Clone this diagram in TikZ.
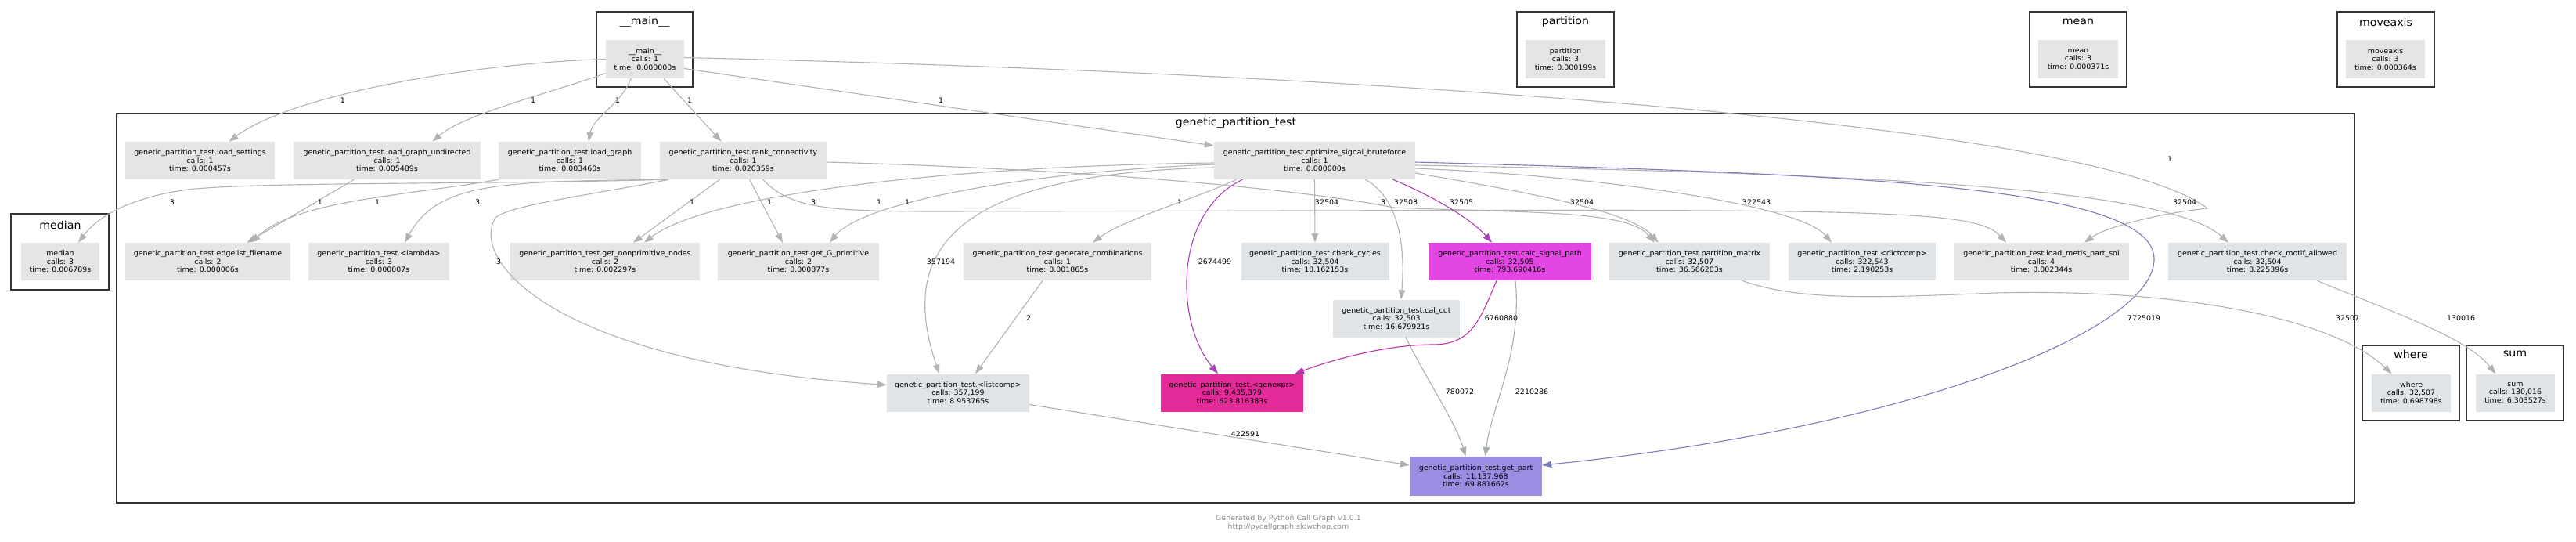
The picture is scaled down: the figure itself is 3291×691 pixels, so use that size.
\documentclass[tikz,border=0pt]{standalone}
\usepackage{fontspec}
\newfontfamily\cgfont{DejaVu Sans}[FakeStretch=1.05]
\usetikzlibrary{arrows.meta}
\definecolor{nodegray}{HTML}{E5E5E5}
\definecolor{nodetint}{HTML}{E1E4E6}
\definecolor{nodemagenta}{HTML}{E446E4}
\definecolor{nodepink}{HTML}{E42A98}
\definecolor{nodelilac}{HTML}{9C8DE2}
\definecolor{clusterline}{HTML}{333333}
\definecolor{edgegray}{HTML}{B3B3B3}
\definecolor{edgepurple}{HTML}{AE42B8}
\definecolor{edgepink}{HTML}{C034A6}
\definecolor{edgeblue}{HTML}{7C7DBD}
\definecolor{edgeslate}{HTML}{A8B0B4}
\definecolor{footgray}{HTML}{8C8C8C}
\begin{document}
\begin{tikzpicture}[x=1pt, y=-1pt,
  fn/.style={fill=nodegray, minimum height=48pt, inner sep=2pt, align=center, font=\cgfont\fontsize{9}{10.4}\selectfont},
  cluster/.style={draw=clusterline, line width=2.5pt, fill=white},
  ctitle/.style={font=\cgfont\fontsize{13.5}{15}\selectfont, inner sep=0pt},
  call/.style={draw=edgegray, line width=1.1pt, -{Triangle[length=12pt,width=8.5pt]}},
  lbl/.style={font=\cgfont\fontsize{9}{10}\selectfont, inner sep=0pt}]
\fill [white] (0, 0) rectangle (3291, 691);
\useasboundingbox (0, 0) rectangle (3291, 691);

\draw [cluster] (762, 15) rectangle (885, 111);
\draw [cluster] (1938, 15) rectangle (2062, 111);
\draw [cluster] (2593, 15) rectangle (2717, 111);
\draw [cluster] (2986, 15) rectangle (3110, 111);
\draw [cluster] (149, 145) rectangle (3008, 642);
\draw [cluster] (14, 273) rectangle (139, 370);
\draw [cluster] (3018, 441) rectangle (3142, 537);
\draw [cluster] (3151, 441) rectangle (3275, 537);
\node (tmain) at (823.5, 28) [ctitle] {\_\_main\_\_};
\node (tpartition) at (2000, 28) [ctitle] {partition};
\node (tmean) at (2655, 28) [ctitle] {mean};
\node (tmoveaxis) at (3048, 28) [ctitle] {moveaxis};
\node (tgenetic) at (1579, 157) [ctitle] {genetic\_partition\_test};
\node (tmedian) at (77, 287) [ctitle] {median};
\node (twhere) at (3080, 452) [ctitle] {where};
\node (tsum) at (3213, 452) [ctitle] {sum};

\node (main) at (824, 75.5) [fn, minimum width=100pt, minimum height=49pt] {\_\_main\_\_\\calls: 1\\time: 0.000000s};
\node (partition) at (2000, 75.5) [fn, minimum width=102pt, minimum height=49pt] {partition\\calls: 3\\time: 0.000199s};
\node (mean) at (2655, 75.5) [fn, minimum width=102pt, minimum height=49pt] {mean\\calls: 3\\time: 0.000371s};
\node (moveaxis) at (3047.5, 75.5) [fn, minimum width=101pt, minimum height=49pt] {moveaxis\\calls: 3\\time: 0.000364s};
\node (settings) at (255.5, 205) [fn, minimum width=191pt] {genetic\_partition\_test.load\_settings\\calls: 1\\time: 0.000457s};
\node (undirected) at (494.5, 205) [fn, minimum width=239pt] {genetic\_partition\_test.load\_graph\_undirected\\calls: 1\\time: 0.005489s};
\node (loadgraph) at (728, 205) [fn, minimum width=182pt] {genetic\_partition\_test.load\_graph\\calls: 1\\time: 0.003460s};
\node (rank) at (949.5, 205) [fn, minimum width=213pt] {genetic\_partition\_test.rank\_connectivity\\calls: 1\\time: 0.020359s};
\node (optimize) at (1679.5, 205) [fn, minimum width=257pt] {genetic\_partition\_test.optimize\_signal\_bruteforce\\calls: 1\\time: 0.000000s};
\node (median) at (77, 334) [fn, minimum width=100pt] {median\\calls: 3\\time: 0.006789s};
\node (edgelist) at (265.5, 334) [fn, minimum width=211pt] {genetic\_partition\_test.edgelist\_filename\\calls: 2\\time: 0.000006s};
\node (lambda) at (484, 334) [fn, minimum width=180pt] {genetic\_partition\_test.<lambda>\\calls: 3\\time: 0.000007s};
\node (nonprim) at (773, 334) [fn, minimum width=242pt] {genetic\_partition\_test.get\_nonprimitive\_nodes\\calls: 2\\time: 0.002297s};
\node (gprim) at (1020, 334) [fn, minimum width=206pt] {genetic\_partition\_test.get\_G\_primitive\\calls: 2\\time: 0.000877s};
\node (combos) at (1351, 334) [fn, minimum width=240pt] {genetic\_partition\_test.generate\_combinations\\calls: 1\\time: 0.001865s};
\node (cycles) at (1680, 334) [fn, fill=nodetint, minimum width=189pt] {genetic\_partition\_test.check\_cycles\\calls: 32,504\\time: 18.162153s};
\node (signal) at (1929, 334) [fn, fill=nodemagenta, minimum width=208pt] {genetic\_partition\_test.calc\_signal\_path\\calls: 32,505\\time: 793.690416s};
\node (matrix) at (2158.5, 334) [fn, fill=nodetint, minimum width=205pt] {genetic\_partition\_test.partition\_matrix\\calls: 32,507\\time: 36.566203s};
\node (dictcomp) at (2379, 334) [fn, fill=nodetint, minimum width=188pt] {genetic\_partition\_test.<dictcomp>\\calls: 322,543\\time: 2.190253s};
\node (metis) at (2608, 334) [fn, minimum width=224pt] {genetic\_partition\_test.load\_metis\_part\_sol\\calls: 4\\time: 0.002344s};
\node (motif) at (2884, 334) [fn, fill=nodetint, minimum width=228pt] {genetic\_partition\_test.check\_motif\_allowed\\calls: 32,504\\time: 8.225396s};
\node (calcut) at (1784, 406.5) [fn, fill=nodetint, minimum width=162pt] {genetic\_partition\_test.cal\_cut\\calls: 32,503\\time: 16.679921s};
\node (listcomp) at (1224, 501.5) [fn, fill=nodetint, minimum width=182pt] {genetic\_partition\_test.<listcomp>\\calls: 357,199\\time: 8.953765s};
\node (genexpr) at (1574, 501.5) [fn, fill=nodepink, minimum width=182pt] {genetic\_partition\_test.<genexpr>\\calls: 9,435,379\\time: 623.816383s};
\node (getpart) at (1885.5, 608) [fn, fill=nodelilac, minimum width=169pt, minimum height=50pt] {genetic\_partition\_test.get\_part\\calls: 11,137,968\\time: 69.881662s};
\node (where) at (3080.5, 501.5) [fn, fill=nodetint, minimum width=101pt] {where\\calls: 32,507\\time: 0.698798s};
\node (sum) at (3213.5, 501.5) [fn, fill=nodetint, minimum width=101pt] {sum\\calls: 130,016\\time: 6.303527s};

\draw [call] (main.west) .. controls +(-170,5) and +(80,-60) .. ([xshift=37]settings.north);
\draw [call] ([yshift=-18]main.west) .. controls +(-70,25) and +(40,-35) .. ([xshift=58]undirected.north);
\draw [call] ([xshift=-18]main.south) .. controls +(-10,30) and +(5,-30) .. ([xshift=24]loadgraph.north);
\draw [call] ([xshift=24]main.south) -- ([xshift=-28]rank.north);
\draw [call] ([yshift=-12]main.east) -- ([yshift=19]optimize.west);
\draw [call] ([yshift=2]main.east) .. controls (1800, 95) and (2680, 160) .. (2820, 266) .. controls (2760, 272) and (2690, 290) .. ([xshift=55]metis.north);
\draw [call] ([xshift=10]rank.south west) .. controls (600, 236) and (330, 232) .. (240, 242) .. controls (180, 250) and (130, 270) .. ([xshift=23]median.north);
\draw [call] ([xshift=-42]undirected.south) -- ([xshift=50]edgelist.north);
\draw [call] (loadgraph.south west) .. controls (520, 250) and (380, 255) .. ([xshift=55]edgelist.north);
\draw [call] ([xshift=5]rank.south west) .. controls (640, 232) and (560, 232) .. ([xshift=33]lambda.north);
\draw [call] ([xshift=12]rank.south west) .. controls (760, 248) and (650, 262) .. (633, 278) .. controls (600, 330) and (700, 462) .. ([yshift=10]listcomp.west);
\draw [call] ([xshift=-30]rank.south) -- ([xshift=36]nonprim.north);
\draw [call] ([yshift=-3]optimize.west) .. controls (1200, 212) and (900, 250) .. ([xshift=50]nonprim.north);
\draw [call] ([xshift=8]rank.south) -- ([xshift=-20]gprim.north);
\draw [call] ([yshift=-5]optimize.west) .. controls (1300, 220) and (1100, 260) .. ([xshift=40]gprim.north);
\draw [call] ([xshift=25]rank.south) .. controls (1010, 265) and (1050, 270) .. (1200, 270) .. controls (2350, 268) and (2520, 262) .. ([xshift=-45]metis.north);
\draw [call] ([yshift=-2]rank.east) .. controls (1450, 218) and (1700, 248) .. (1780, 265) .. controls (1950, 272) and (2080, 268) .. ([xshift=-45]matrix.north);
\draw [call] ([yshift=-9]optimize.west) .. controls (1200, 222) and (1150, 330) .. ([xshift=-24]listcomp.north);
\draw [call] ([xshift=-19]combos.south) -- ([xshift=22]listcomp.north);
\draw [call] ([xshift=-100]optimize.south) .. controls +(-40,20) and +(40,-30) .. ([xshift=45]combos.north);
\draw [call, draw=edgepurple] ([xshift=-92]optimize.south) .. controls (1500, 270) and (1500, 410) .. ([xshift=-18]genexpr.north);
\draw [call] (optimize.south) -- (cycles.north);
\draw [call] ([xshift=65]optimize.south) .. controls (1790, 255) and (1795, 320) .. ([xshift=6]calcut.north);
\draw [call, draw=edgepurple] ([xshift=100]optimize.south) .. controls (1830, 250) and (1880, 280) .. ([xshift=-23]signal.north);
\draw [call] ([yshift=-16]optimize.east) .. controls (1950, 245) and (2085, 270) .. ([xshift=-40]matrix.north);
\draw [call] ([yshift=-10]optimize.east) .. controls (2050, 225) and (2300, 262) .. ([xshift=-39]dictcomp.north);
\draw [call] ([yshift=-6]optimize.east) .. controls (2400, 222) and (2770, 240) .. ([xshift=-37]motif.north);
\draw [call, draw=edgeblue] ([yshift=-2]optimize.east) .. controls (2350, 222) and (2750, 235) .. (2752, 330) .. controls (2754, 420) and (2450, 545) .. ([yshift=14]getpart.east);
\draw [call, draw=edgepink] ([xshift=-17]signal.south) .. controls (1890, 410) and (1880, 440) .. (1830, 440) .. controls (1770, 440) and (1700, 460) .. ([xshift=80]genexpr.north);
\draw [call, draw=edgeslate] ([xshift=7]signal.south) .. controls (1945, 450) and (1905, 520) .. ([xshift=12]getpart.north);
\draw [call, draw=edgeslate] ([xshift=12]calcut.south) .. controls (1820, 480) and (1860, 540) .. ([xshift=-13]getpart.north);
\draw [call, draw=edgeslate] ([yshift=-15]listcomp.east) -- ([yshift=14]getpart.west);
\draw [call] ([xshift=67]matrix.south) .. controls (2300, 385) and (2400, 380) .. (2550, 374) .. controls (2800, 368) and (2985, 410) .. ([xshift=-25]where.north);
\draw [call] ([xshift=76]motif.south) .. controls (3060, 400) and (3150, 430) .. ([xshift=-25]sum.north);

\node (c-main-settings) at (438, 128) [lbl] {1};
\node (c-main-undirected) at (681, 128) [lbl] {1};
\node (c-main-loadgraph) at (789, 128) [lbl] {1};
\node (c-main-rank) at (881, 128) [lbl] {1};
\node (c-main-optimize) at (1202, 128) [lbl] {1};
\node (c-main-metis) at (2772, 203) [lbl] {1};
\node (c-rank-median) at (220, 258) [lbl] {3};
\node (c-undirected-edgelist) at (409, 258) [lbl] {1};
\node (c-loadgraph-edgelist) at (482, 258) [lbl] {1};
\node (c-rank-lambda) at (610, 258) [lbl] {3};
\node (c-rank-listcomp) at (637, 334) [lbl] {3};
\node (c-rank-nonprim) at (884, 258) [lbl] {1};
\node (c-rank-gprim) at (983, 258) [lbl] {1};
\node (c-rank-metis) at (1039, 258) [lbl] {3};
\node (c-optimize-nonprim) at (1123, 258) [lbl] {1};
\node (c-optimize-gprim) at (1159, 258) [lbl] {1};
\node (c-optimize-listcomp) at (1202, 334) [lbl] {357194};
\node (c-optimize-combos) at (1507, 258) [lbl] {1};
\node (c-optimize-genexpr) at (1552, 334) [lbl] {2674499};
\node (c-optimize-cycles) at (1695, 258) [lbl] {32504};
\node (c-rank-matrix) at (1767, 258) [lbl] {3};
\node (c-optimize-calcut) at (1796, 258) [lbl] {32503};
\node (c-optimize-signal) at (1867, 258) [lbl] {32505};
\node (c-optimize-matrix) at (2021, 258) [lbl] {32504};
\node (c-optimize-dictcomp) at (2244, 258) [lbl] {322543};
\node (c-optimize-motif) at (2791, 258) [lbl] {32504};
\node (c-optimize-getpart) at (2739, 406) [lbl] {7725019};
\node (c-combos-listcomp) at (1314, 406) [lbl] {2};
\node (c-signal-genexpr) at (1918, 406) [lbl] {6760880};
\node (c-calcut-getpart) at (1865, 500) [lbl] {780072};
\node (c-signal-getpart) at (1957, 500) [lbl] {2210286};
\node (c-listcomp-getpart) at (1591, 554) [lbl] {422591};
\node (c-matrix-where) at (2999, 406) [lbl] {32507};
\node (c-motif-sum) at (3144, 406) [lbl] {130016};

\node (footer) at (1646, 667.5) [align=center, text=footgray, font=\cgfont\fontsize{9}{11}\selectfont] {Generated by Python Call Graph v1.0.1\\http://pycallgraph.slowchop.com};
\end{tikzpicture}
\end{document}
